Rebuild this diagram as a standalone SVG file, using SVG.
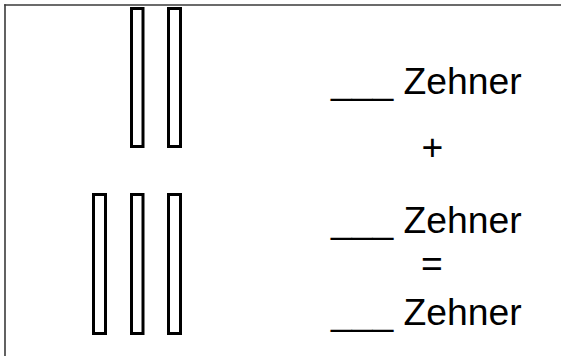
<svg xmlns="http://www.w3.org/2000/svg" width="561" height="356" viewBox="0 0 561 356">
<style>
.frame{stroke:#3a3a3a;stroke-width:1.6;fill:none}
.stick{fill:#fff;stroke:#000;stroke-width:3}
.t{font-family:"Liberation Sans",Arial,sans-serif;font-size:37.3px;fill:#000}
</style>
<rect width="561" height="356" fill="#fff"/>
<g id="frame">
<line class="frame" x1="4.2" y1="5" x2="561" y2="5"/>
<line class="frame" x1="5" y1="4.2" x2="5" y2="356"/>
</g>
<g id="top-sticks">
<rect class="stick" x="131.5" y="8.5" width="11.5" height="138"/>
<rect class="stick" x="168.5" y="8.5" width="12" height="138"/>
</g>
<g id="bottom-sticks">
<rect class="stick" x="93.5" y="194.5" width="12" height="139"/>
<rect class="stick" x="131.5" y="194.5" width="11.5" height="139"/>
<rect class="stick" x="168.5" y="194.5" width="12" height="139"/>
</g>
<g id="line1"><text class="t" x="331" y="94">___ Zehner</text></g>
<g id="plus"><text class="t" x="432.5" y="159.5" text-anchor="middle">+</text></g>
<g id="line2"><text class="t" x="331" y="233">___ Zehner</text></g>
<g id="equals"><text class="t" x="432" y="276" text-anchor="middle">=</text></g>
<g id="line3"><text class="t" x="331" y="324.5">___ Zehner</text></g>
<g id="connectors"/>
</svg>
